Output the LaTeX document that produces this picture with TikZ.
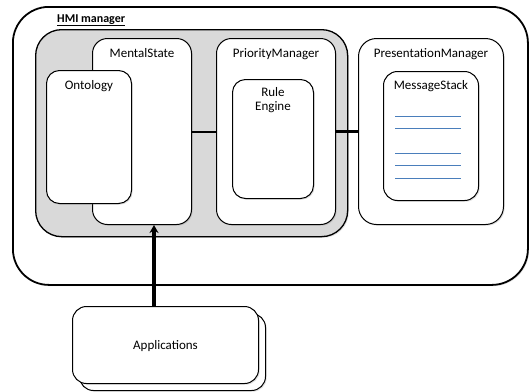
\documentclass[tikz,border=0pt]{standalone}
\usepackage{fontspec}
\setmainfont{Carlito}
\usetikzlibrary{arrows.meta,shadows}

\definecolor{panelgrey}{HTML}{D9D9D9}
\definecolor{stackblue}{HTML}{4A7EBB}

\tikzset{
  box/.style={draw=black, fill=white, line width=1pt, inner sep=0pt,
    anchor=north west, drop shadow={shadow xshift=1.2pt, shadow yshift=-1.2pt, opacity=0.25}},
  title/.style={font=\fontsize{13}{15}\selectfont, inner sep=0pt},
  stackline/.style={draw=stackblue, line width=0.9pt},
  link/.style={line width=2pt},
}

\begin{document}
\begin{tikzpicture}[x=1pt, y=-1pt]
  \useasboundingbox (0,0) rectangle (529,391);

  % HMI manager container
  \node[box, line width=1.8pt, rounded corners=36pt, minimum width=515pt, minimum height=278pt] (hmi) at (12,6) {};
  \node[anchor=base west, inner sep=0pt, font=\bfseries\fontsize{12}{14}\selectfont] (hmilabel) at (57,22) {\underline{HMI manager}};

  % grey panel grouping the mental state and priority manager
  \node[box, fill=panelgrey, line width=1.3pt, rounded corners=26pt, minimum width=312pt, minimum height=207pt] (panel) at (35,29) {};

  % MentalState with nested Ontology
  \node[box, rounded corners=15pt, minimum width=99pt, minimum height=186pt] (mental) at (92,38) {};
  \node[title, anchor=north] (mentallabel) at ([yshift=-10pt]mental.north) {MentalState};
  \node[box, rounded corners=13pt, minimum width=85pt, minimum height=133pt] (onto) at (46,70) {};
  \node[title, anchor=north] (ontolabel) at ([yshift=-10pt]onto.north) {Ontology};

  % PriorityManager with nested Rule Engine
  \node[box, rounded corners=15pt, minimum width=119pt, minimum height=186pt] (prio) at (216,38) {};
  \node[title, anchor=north] (priolabel) at ([yshift=-10pt]prio.north) {PriorityManager};
  \node[box, rounded corners=13pt, minimum width=81pt, minimum height=119pt] (rule) at (232,79) {};
  \node[title, anchor=north, align=center] (rulelabel) at ([yshift=-8pt]rule.north) {Rule\\[-1pt]Engine};

  % PresentationManager with nested MessageStack
  \node[box, rounded corners=18pt, minimum width=145pt, minimum height=186pt] (pres) at (358,38) {};
  \node[title, anchor=north] (preslabel) at ([yshift=-10pt]pres.north) {PresentationManager};
  \node[box, rounded corners=14pt, minimum width=95pt, minimum height=129pt] (stack) at (383,71) {};
  \node[title, anchor=north] (stacklabel) at ([yshift=-9pt]stack.north) {MessageStack};

  % stacked messages
  \foreach \yy in {116,128,153,165,178}
    \draw[stackline] (stack.west |- 0,\yy) ++(12,0) -- ++(66,0);

  % links between components
  \draw[link] (mental.east) -- (prio.west);
  \draw[link, line width=2.8pt] (prio.east) -- (pres.west);

  % Applications (stacked document shape)
  \node[box, rounded corners=14pt, minimum width=186pt, minimum height=77pt] (appsback) at (79,313) {};
  \node[box, rounded corners=14pt, minimum width=186pt, minimum height=77pt] (apps) at (72,306) {};
  \node[title] (appslabel) at ([yshift=-1pt]apps.center) {Applications};

  % input arrow from applications into the mental state
  \coordinate (arrx) at (154,0);
  \draw[line width=3.6pt, -{Stealth[length=8pt, width=9pt]}] (apps.north -| arrx) -- (mental.south -| arrx);
\end{tikzpicture}
\end{document}
